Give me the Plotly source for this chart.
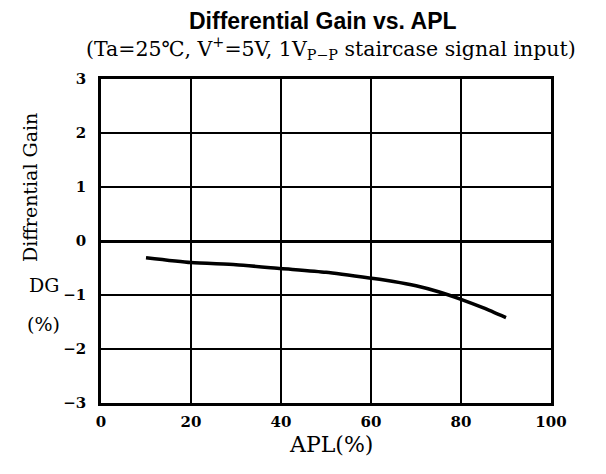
import plotly.graph_objects as go

apl = [10, 20, 30, 40, 50, 60, 65, 70, 75, 80, 85, 90]
dg = [-0.31, -0.40, -0.44, -0.51, -0.58, -0.69, -0.75, -0.83, -0.94, -1.08, -1.24, -1.42]

x_ticks = [0, 20, 40, 60, 80, 100]
y_ticks = [-3, -2, -1, 0, 1, 2, 3]
y_tick_text = ["\u22123", "\u22122", "\u22121", "0", "1", "2", "3"]

serif = "DejaVu Serif, Liberation Serif, serif"

# page offset (body margin) of ~8px
OFF = 8
L, R, T, B = 101 - OFF, 606 - (551 - OFF), 79 - OFF, 474 - (403 - OFF)

fig = go.Figure()
fig.add_trace(go.Scatter(x=apl, y=dg, mode="lines",
                         line=dict(color="black", width=3.5, shape="spline", smoothing=0.6),
                         showlegend=False, hoverinfo="skip"))

fig.update_layout(
    width=606, height=474,
    margin=dict(l=L, r=R, t=T, b=B),
    paper_bgcolor="white", plot_bgcolor="white",
    font=dict(family=serif, color="black"),
)
fig.update_xaxes(range=[0, 100], tickvals=x_ticks, ticktext=["<b>%d</b>" % v for v in x_ticks],
                 showgrid=True, gridcolor="black", gridwidth=1.5,
                 showline=True, linecolor="black", linewidth=2.5, mirror=True,
                 zeroline=False, ticks="", tickfont=dict(size=15, family=serif),
                 ticklabelstandoff=3)
fig.update_yaxes(range=[-3, 3], tickvals=y_ticks, ticktext=["<b>%s</b>" % t for t in y_tick_text],
                 showgrid=True, gridcolor="black", gridwidth=1.5,
                 showline=True, linecolor="black", linewidth=2.5, mirror=True,
                 zeroline=True, zerolinecolor="black", zerolinewidth=2.5,
                 ticks="", tickfont=dict(size=15, family=serif),
                 ticklabelstandoff=9)

W = 606 - L - R
H = 474 - T - B

def px(x, y):
    # convert reference pixel coordinates to paper coordinates
    return (x - OFF - L) / W, (474 - B - (y - OFF)) / H

def add_text(text, x, y, size, family=serif, angle=0, xanchor="center"):
    xp, yp = px(x, y)
    fig.add_annotation(text=text, x=xp, y=yp, xref="paper", yref="paper", showarrow=False,
                       font=dict(family=family, size=size, color="black"), textangle=angle,
                       xanchor=xanchor, yanchor="middle")

add_text("<b>Differential Gain vs. APL</b>", 323, 21, 23, family="Liberation Sans, Arial, sans-serif")
add_text("(Ta=25\u2103, V<sup>+</sup>=5V, 1V<sub>P\u2212P</sub> staircase signal input)", 331, 48, 20.5)
add_text("Diffrential Gain", 30, 188, 19, angle=-90)
add_text("DG", 44, 285, 19)
add_text("(%)", 44, 324, 19)
add_text("APL(%)", 331, 445, 22)

fig.write_html("out.html")
